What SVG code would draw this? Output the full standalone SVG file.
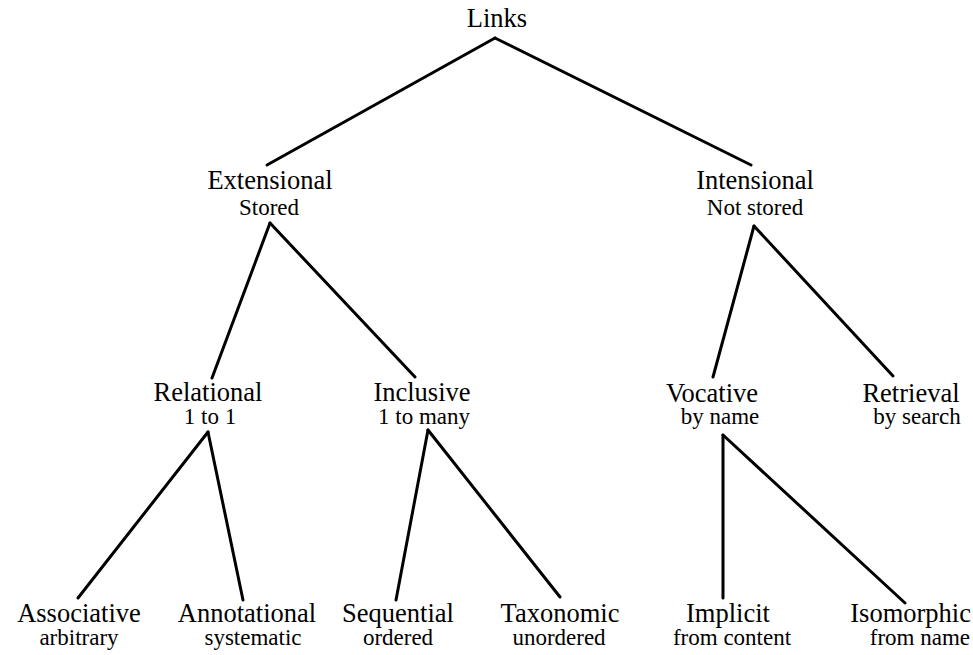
<svg xmlns="http://www.w3.org/2000/svg" width="973" height="655" viewBox="0 0 973 655">
<style>
text{font-family:"Liberation Serif","Times New Roman",serif;fill:#000;text-anchor:middle}
.m{font-size:26.5px}
.s{font-size:23px}
.e{text-anchor:end}
#edges line{stroke:#000;stroke-width:3;stroke-linecap:round}
</style>
<rect width="973" height="655" fill="#fff"/>
<g id="edges">
<line x1="495" y1="38" x2="267" y2="165"/>
<line x1="495" y1="38" x2="751" y2="165"/>
<line x1="270" y1="223" x2="212" y2="378"/>
<line x1="270" y1="223" x2="415" y2="377"/>
<line x1="754" y1="226" x2="713" y2="377"/>
<line x1="754" y1="226" x2="893" y2="376"/>
<line x1="208" y1="432" x2="78" y2="598"/>
<line x1="208" y1="432" x2="243" y2="600"/>
<line x1="428" y1="430" x2="396" y2="600"/>
<line x1="428" y1="430" x2="560" y2="597"/>
<line x1="723" y1="435" x2="723" y2="598"/>
<line x1="723" y1="435" x2="905" y2="603"/>
</g>
<g id="links"><text class="m" x="497" y="27">Links</text></g>
<g id="extensional"><text class="m" x="270" y="189">Extensional</text><text class="s" x="269" y="215">Stored</text></g>
<g id="intensional"><text class="m" x="755" y="189">Intensional</text><text class="s" x="755" y="215">Not stored</text></g>
<g id="relational"><text class="m" x="208" y="401">Relational</text><text class="s" x="210" y="424">1 to 1</text></g>
<g id="inclusive"><text class="m" x="422" y="401">Inclusive</text><text class="s" x="424" y="424">1 to many</text></g>
<g id="vocative"><text class="m" x="712" y="402">Vocative</text><text class="s" x="720" y="424">by name</text></g>
<g id="retrieval"><text class="m" x="911" y="402">Retrieval</text><text class="s" x="917" y="424">by search</text></g>
<g id="associative"><text class="m" x="79" y="622">Associative</text><text class="s" x="79" y="645">arbitrary</text></g>
<g id="annotational"><text class="m" x="247" y="622">Annotational</text><text class="s" x="253" y="645">systematic</text></g>
<g id="sequential"><text class="m" x="398" y="622">Sequential</text><text class="s" x="398" y="645">ordered</text></g>
<g id="taxonomic"><text class="m" x="560" y="622">Taxonomic</text><text class="s" x="559" y="645">unordered</text></g>
<g id="implicit"><text class="m" x="728" y="622">Implicit</text><text class="s" x="732" y="645">from content</text></g>
<g id="isomorphic"><text class="m e" x="971" y="622">Isomorphic</text><text class="s e" x="970" y="645">from name</text></g>
</svg>
